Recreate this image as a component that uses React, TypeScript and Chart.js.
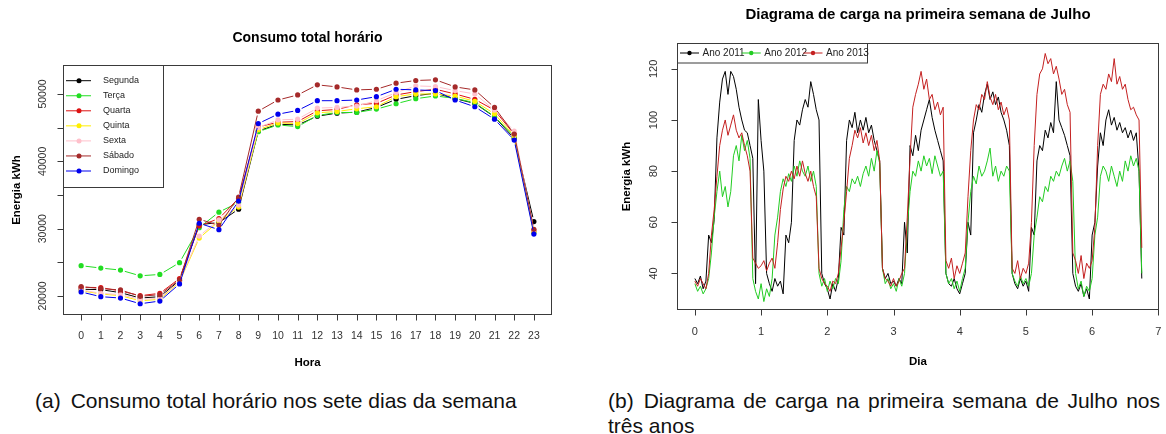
import React, { useEffect, useRef } from "react";
import { Chart, registerables } from "chart.js";

Chart.register(...registerables);

const FONT = '"Liberation Sans", Arial, Helvetica, sans-serif';

// ---------------- Left chart: Consumo total horário ----------------
const hours = [0, 1, 2, 3, 4, 5, 6, 7, 8, 9, 10, 11, 12, 13, 14, 15, 16, 17, 18, 19, 20, 21, 22, 23];
const hourTickLabels = ["0", "1", "2", "3", "4", "5", "6", "7", "8", "9", "10", "11", "12", "13", "14", "15", "16", "17", "18", "19", "20", "21", "22", "23"];
const energyTicks = [20000, 25000, 30000, 35000, 40000, 45000, 50000];
const energyTickLabels = ["20000", "", "30000", "", "40000", "", "50000"];
const weekDays = ["Segunda", "Terça", "Quarta", "Quinta", "Sexta", "Sábado", "Domingo"];
const weekColors = ["#000000", "#22DD22", "#DD1111", "#FFEE00", "#FFC0CB", "#A52A2A", "#0000EE"];

const segunda = [21000, 20950, 20500, 19700, 19900, 22300, 30600, 30900, 32900, 44500, 45500, 45400, 46700, 47150, 47300, 48000, 49200, 49750, 50100, 49300, 48600, 46600, 43400, 31050];
const terca = [24500, 24150, 23850, 23000, 23200, 24950, 30150, 32450, 33900, 44400, 45400, 45150, 46800, 47250, 47250, 47750, 48550, 49300, 49700, 49350, 48700, 46650, 43650, 29400];
const quarta = [21300, 21250, 20750, 20050, 20400, 22600, 30400, 31500, 34500, 45100, 45800, 45900, 47500, 47700, 48400, 48600, 49850, 50350, 50700, 50000, 49200, 47600, 44000, 29700];
const quinta = [20800, 20300, 20050, 19300, 19500, 22100, 28600, 31100, 33200, 44700, 45700, 45600, 47200, 47400, 47800, 48100, 49600, 50000, 50000, 49700, 48900, 47050, 43800, 29500];
const sexta = [20900, 20400, 20200, 19500, 19650, 22200, 28900, 31300, 33500, 45000, 46150, 46250, 47900, 48000, 48200, 49000, 50200, 51200, 51100, 50500, 50000, 47600, 44500, 29800];
const sabado = [21400, 21100, 20900, 19950, 20200, 22400, 31400, 30500, 34700, 47450, 49100, 49850, 51350, 51050, 50600, 50700, 51600, 52000, 52100, 51050, 50600, 48000, 44050, 29900];
const domingo = [20600, 19900, 19700, 18850, 19250, 21800, 30800, 29850, 34100, 45600, 47000, 47550, 49000, 49000, 49100, 49600, 50700, 50600, 50500, 49100, 48100, 46250, 43150, 29200];
const weekSeries = [segunda, terca, quarta, quinta, sexta, sabado, domingo];

// ---------------- Right chart: Diagrama de carga ----------------
const samplesPerDay = 24;
const dayTicks = [0, 1, 2, 3, 4, 5, 6, 7];
const dayTickLabels = ["0", "1", "2", "3", "4", "5", "6", "7"];
const loadTicks = [40, 60, 80, 100, 120];
const loadTickLabels = ["40", "60", "80", "100", "120"];
const yearLabels = ["Ano 2011", "Ano 2012", "Ano 2013"];
const yearColors = ["#000000", "#22CC22", "#C42020"];

const ano2011 = [
  38, 36, 39, 34, 37, 55, 52, 61, 93, 107, 116, 119, 110, 119, 117, 112, 105, 100, 96, 95, 90, 85, 36, 108,
  92, 80, 40, 36, 33, 38, 35, 37, 32, 55, 52, 60, 92, 100, 98, 104, 108, 105, 115, 110, 104, 100, 40, 36,
  34, 30, 36, 33, 38, 58, 55, 92, 100, 97, 103, 95, 100, 96, 101, 95, 98, 92, 88, 84, 42, 38, 40, 36,
  37, 35, 38, 36, 60, 48, 90, 86, 94, 88, 96, 100, 104, 108, 101, 96, 92, 88, 84, 40, 36, 35, 38, 34,
  32, 36, 40, 60, 55, 95, 100, 106, 103, 110, 114, 108, 111, 106, 109, 103, 100, 96, 90, 40, 36, 34, 38, 35,
  37, 33, 58, 55, 84, 90, 88, 96, 93, 99, 95, 115, 100, 97, 94, 90, 86, 40, 35, 33, 36, 31, 34, 30,
  55, 60, 82, 95, 90, 100, 104, 98, 101, 96, 99, 95, 97, 93, 96, 92, 95, 80, 38,
];
const ano2012 = [
  36, 33, 35, 32, 34, 38, 48, 62, 72, 80, 70, 74, 66, 72, 86, 90, 84, 94, 88, 92, 85, 38, 33, 30,
  36, 29, 34, 31, 38, 55, 62, 72, 77, 74, 79, 76, 82, 78, 84, 80, 78, 82, 76, 80, 74, 40, 35, 38,
  33, 37, 34, 38, 36, 45, 65, 74, 72, 77, 75, 78, 74, 79, 82, 78, 85, 80, 88, 83, 42, 36, 38, 34,
  36, 33, 38, 35, 40, 58, 72, 80, 78, 84, 80, 86, 82, 85, 79, 86, 82, 78, 80, 40, 36, 38, 34, 37,
  33, 38, 42, 60, 72, 78, 75, 82, 78, 80, 84, 89, 78, 82, 76, 80, 78, 82, 80, 40, 37, 35, 39, 36,
  38, 35, 40, 55, 62, 70, 68, 74, 72, 78, 76, 80, 78, 82, 85, 80, 84, 76, 40, 34, 37, 31, 35, 33,
  38, 55, 62, 78, 82, 80, 76, 82, 78, 74, 80, 76, 84, 80, 86, 82, 85, 80, 40,
];
const ano2013 = [
  37, 35, 38, 36, 34, 40, 55, 65, 78, 90, 96, 100, 94, 98, 102, 96, 93, 95, 90, 86, 80, 46, 44, 42,
  43, 45, 41, 44, 46, 42, 52, 65, 73, 78, 76, 80, 77, 82, 78, 84, 79, 76, 80, 74, 70, 42, 38, 36,
  35, 33, 37, 36, 40, 50, 60, 72, 85, 90, 96, 93, 97, 91, 95, 90, 94, 88, 92, 84, 42, 38, 37, 35,
  38, 35, 37, 40, 42, 62, 85, 105, 110, 114, 119, 112, 116, 108, 110, 104, 107, 102, 105, 45, 42, 46, 38, 43,
  40, 44, 48, 70, 88, 100, 106, 104, 110, 108, 115, 109, 106, 110, 104, 107, 102, 105, 100, 42, 40, 45, 38, 42,
  40, 44, 60, 90, 110, 118, 120, 126, 122, 124, 118, 121, 116, 110, 112, 106, 103, 48, 45, 40, 47, 38, 44, 42,
  45, 58, 90, 110, 114, 112, 118, 115, 124, 114, 117, 112, 114, 108, 104, 105, 102, 100, 50,
];
const yearSeries = [ano2011, ano2012, ano2013];

// ---------------- drawing helpers ----------------
interface Decor {
  title: string;
  titleFont: string;
  titleY: number;
  xTicks: number[];
  xTickLabels: string[];
  yTicks: number[];
  yTickLabels: string[];
  tickFont: string;
  tickLen: number;
  xLabelGap: number;
  yLabelGap: number;
  xTitle: string;
  xTitleY: number;
  yTitle: string;
  yTitleX: number;
  axisTitleFont: string;
}

function drawFrame(chart: any, d: Decor) {
  const { ctx, chartArea: a } = chart;
  const xs = chart.scales.x;
  const ys = chart.scales.y;
  ctx.save();
  ctx.strokeStyle = "#3a3a3a";
  ctx.lineWidth = 1;
  const L = Math.round(a.left) + 0.5;
  const T = Math.round(a.top) + 0.5;
  const R = Math.round(a.right) - 0.5;
  const B = Math.round(a.bottom) - 0.5;
  ctx.strokeRect(L, T, R - L, B - T);
  ctx.beginPath();
  d.xTicks.forEach((v) => {
    const px = Math.round(xs.getPixelForValue(v)) + 0.5;
    ctx.moveTo(px, B);
    ctx.lineTo(px, B + d.tickLen);
  });
  d.yTicks.forEach((v) => {
    const py = Math.round(ys.getPixelForValue(v)) + 0.5;
    ctx.moveTo(L, py);
    ctx.lineTo(L - d.tickLen, py);
  });
  ctx.stroke();

  ctx.fillStyle = "#333";
  ctx.font = d.tickFont;
  ctx.textAlign = "center";
  ctx.textBaseline = "middle";
  d.xTicks.forEach((v, i) => {
    ctx.fillText(d.xTickLabels[i], xs.getPixelForValue(v), a.bottom + d.xLabelGap);
  });
  d.yTicks.forEach((v, i) => {
    const t = d.yTickLabels[i];
    if (!t) return;
    ctx.save();
    ctx.translate(a.left - d.yLabelGap, ys.getPixelForValue(v));
    ctx.rotate(-Math.PI / 2);
    ctx.fillText(t, 0, 0);
    ctx.restore();
  });

  ctx.fillStyle = "#000";
  ctx.font = d.titleFont;
  ctx.fillText(d.title, (a.left + a.right) / 2, d.titleY);
  ctx.font = d.axisTitleFont;
  ctx.fillText(d.xTitle, (a.left + a.right) / 2, d.xTitleY);
  ctx.save();
  ctx.translate(d.yTitleX, (a.top + a.bottom) / 2);
  ctx.rotate(-Math.PI / 2);
  ctx.fillText(d.yTitle, 0, 0);
  ctx.restore();
  ctx.restore();
}

const GAP = 4.5;
const gappedDash = (c: any) => {
  const len = Math.hypot(c.p1.x - c.p0.x, c.p1.y - c.p0.y);
  const tail = GAP + 20 + (c.p0DataIndex || 0) * 0.001;
  if (len <= 2 * GAP + 1) return [0, len + tail];
  return [0, GAP, len - 2 * GAP, tail];
};

function LeftChart() {
  const ref = useRef<HTMLCanvasElement>(null);
  useEffect(() => {
    const decor: Decor = {
      title: "Consumo total horário",
      titleFont: `bold 14px ${FONT}`,
      titleY: 38,
      xTicks: hours,
      xTickLabels: hourTickLabels,
      yTicks: energyTicks,
      yTickLabels: energyTickLabels,
      tickFont: `10.5px ${FONT}`,
      tickLen: 6,
      xLabelGap: 21.5,
      yLabelGap: 20,
      xTitle: "Hora",
      xTitleY: 363,
      yTitle: "Energia kWh",
      yTitleX: 17,
      axisTitleFont: `bold 11.5px ${FONT}`,
    };
    const plugin = {
      id: "leftDecor",
      afterDraw(chart: any) {
        drawFrame(chart, decor);
        const { ctx, chartArea: a } = chart;
        ctx.save();
        const x0 = Math.round(a.left) + 0.5;
        const y0 = Math.round(a.top) + 0.5;
        ctx.fillStyle = "#fff";
        ctx.fillRect(x0, y0, 100, 122);
        ctx.strokeStyle = "#3a3a3a";
        ctx.lineWidth = 1;
        ctx.strokeRect(x0, y0, 100, 122);
        ctx.font = `9px ${FONT}`;
        ctx.textAlign = "left";
        ctx.textBaseline = "middle";
        chart.data.datasets.forEach((ds: any, i: number) => {
          const y = a.top + 15.7 + 15.05 * i;
          ctx.strokeStyle = ds.borderColor;
          ctx.beginPath();
          ctx.moveTo(a.left + 3, y);
          ctx.lineTo(a.left + 28, y);
          ctx.stroke();
          ctx.fillStyle = ds.borderColor;
          ctx.beginPath();
          ctx.arc(a.left + 16, y, 2.5, 0, Math.PI * 2);
          ctx.fill();
          ctx.fillStyle = "#222";
          ctx.fillText(ds.label, a.left + 40, y);
        });
        ctx.restore();
      },
    };
    const chart = new Chart(ref.current as HTMLCanvasElement, {
      type: "line",
      data: {
        datasets: weekSeries.map((s, i) => ({
          label: weekDays[i],
          data: s.map((v, j) => ({ x: hours[j], y: v })),
          borderColor: weekColors[i],
          backgroundColor: weekColors[i],
          borderWidth: 1,
          pointRadius: 2.6,
          pointBorderWidth: 0,
          pointBackgroundColor: weekColors[i],
          pointHoverRadius: 2.6,
          tension: 0,
          fill: false,
          order: weekSeries.length - i,
          segment: { borderDash: gappedDash },
        })),
      },
      options: {
        responsive: false,
        animation: false,
        events: [],
        layout: { padding: { left: 63, right: 31, top: 65, bottom: 60 } },
        plugins: { legend: { display: false }, title: { display: false }, tooltip: { enabled: false } },
        scales: {
          x: { type: "linear", display: false, min: -0.92, max: 23.92 },
          y: { type: "linear", display: false, min: 17180, max: 54300 },
        },
      },
      plugins: [plugin],
    } as any);
    return () => chart.destroy();
  }, []);
  return <canvas ref={ref} width={583} height={375} style={{ display: "block" }} />;
}

function RightChart() {
  const ref = useRef<HTMLCanvasElement>(null);
  useEffect(() => {
    const decor: Decor = {
      title: "Diagrama de carga na primeira semana de Julho",
      titleFont: `bold 15px ${FONT}`,
      titleY: 15,
      xTicks: dayTicks,
      xTickLabels: dayTickLabels,
      yTicks: loadTicks,
      yTickLabels: loadTickLabels,
      tickFont: `11px ${FONT}`,
      tickLen: 6,
      xLabelGap: 21.5,
      yLabelGap: 23,
      xTitle: "Dia",
      xTitleY: 362,
      yTitle: "Energia kWh",
      yTitleX: 44,
      axisTitleFont: `bold 11.5px ${FONT}`,
    };
    const plugin = {
      id: "rightDecor",
      afterDraw(chart: any) {
        drawFrame(chart, decor);
        const { ctx, chartArea: a } = chart;
        ctx.save();
        const x0 = Math.round(a.left) + 0.5;
        const y0 = Math.round(a.top) + 0.5;
        ctx.fillStyle = "#fff";
        ctx.fillRect(x0, y0, 190, 19.5);
        ctx.strokeStyle = "#3a3a3a";
        ctx.lineWidth = 1;
        ctx.strokeRect(x0, y0, 190, 19.5);
        ctx.font = `10px ${FONT}`;
        ctx.textAlign = "left";
        ctx.textBaseline = "middle";
        chart.data.datasets.forEach((ds: any, k: number) => {
          const lx = a.left + 3 + 61.75 * k;
          const y = a.top + 10;
          ctx.strokeStyle = ds.borderColor;
          ctx.beginPath();
          ctx.moveTo(lx, y);
          ctx.lineTo(lx + 19, y);
          ctx.stroke();
          ctx.fillStyle = ds.borderColor;
          ctx.beginPath();
          ctx.arc(lx + 9.5, y, 2.2, 0, Math.PI * 2);
          ctx.fill();
          ctx.fillStyle = "#222";
          ctx.fillText(ds.label, lx + 22.5, y);
        });
        ctx.restore();
      },
    };
    const chart = new Chart(ref.current as HTMLCanvasElement, {
      type: "line",
      data: {
        datasets: yearSeries.map((s, i) => ({
          label: yearLabels[i],
          data: s.map((v, j) => ({ x: j / samplesPerDay, y: v })),
          borderColor: yearColors[i],
          backgroundColor: yearColors[i],
          borderWidth: 1,
          pointRadius: 0,
          pointHoverRadius: 0,
          tension: 0,
          fill: false,
          order: yearSeries.length - i,
        })),
      },
      options: {
        responsive: false,
        animation: false,
        events: [],
        layout: { padding: { left: 94, right: 7, top: 43, bottom: 65 } },
        plugins: { legend: { display: false }, title: { display: false }, tooltip: { enabled: false } },
        scales: {
          x: { type: "linear", display: false, min: -0.27, max: 7.01 },
          y: { type: "linear", display: false, min: 25.7, max: 130.1 },
        },
      },
      plugins: [plugin],
    } as any);
    return () => chart.destroy();
  }, []);
  return <canvas ref={ref} width={583} height={375} style={{ display: "block" }} />;
}

export default function App() {
  const capStyle: React.CSSProperties = {
    position: "absolute",
    top: 388,
    font: `21px ${FONT}`,
    lineHeight: "25px",
    color: "#111",
  };
  return (
    <div style={{ position: "absolute", left: 0, top: 0, width: 1166, height: 434, background: "#fff", overflow: "hidden" }}>
      <div style={{ position: "absolute", left: 0, top: 0 }}>
        <LeftChart />
      </div>
      <div style={{ position: "absolute", left: 583, top: 0 }}>
        <RightChart />
      </div>
      <div style={{ ...capStyle, left: 35, whiteSpace: "nowrap" }}>
        <span style={{ marginRight: 10 }}>(a)</span>Consumo total horário nos sete dias da semana
      </div>
      <div style={{ ...capStyle, left: 608, width: 552, textAlign: "justify" }}>
        <span style={{ marginRight: 10 }}>(b)</span>Diagrama de carga na primeira semana de Julho nos três anos
      </div>
    </div>
  );
}
